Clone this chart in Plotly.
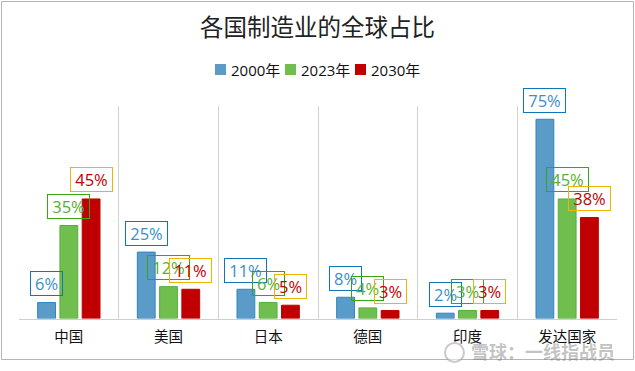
import plotly.graph_objects as go

categories = ["中国", "美国", "日本", "德国", "印度", "发达国家"]
values_2000 = [6, 25, 11, 8, 2, 75]
values_2023 = [35, 12, 6, 4, 3, 45]
values_2030 = [45, 11, 5, 3, 3, 38]
series_names = ["2000年", "2023年", "2030年"]

W, H = 635, 371
FONT = "Open Sans, Noto Sans CJK SC, sans-serif"
fig = go.Figure()
fills = ["#5B9BC8", "#70BF4E", "#C00000"]
edges = ["#2E86C1", "#55AE3A", "#C00000"]
text_cols = ["#3A8FC8", "#55B032", "#C00000"]
box_cols = ["#0F75BC", "#3BA50F", "#F0B400"]
all_vals = [values_2000, values_2023, values_2030]

bargap = 0.33
for name, vals, f, e in zip(series_names, all_vals, fills, edges):
    fig.add_trace(go.Bar(name=name, x=list(range(6)), y=vals, showlegend=False,
                         marker=dict(color=f, line=dict(color=e, width=1))))

slot = (1 - bargap) / 3
for j, vals in enumerate(all_vals):
    for i, v in enumerate(vals):
        fig.add_annotation(x=i + (j - 1) * slot, y=v, xref="x", yref="y", showarrow=False,
                           text=f"{v}%", yshift=19, yanchor="middle", xanchor="center",
                           font=dict(family=FONT, size=16.5, color=text_cols[j]),
                           bordercolor=box_cols[j], borderwidth=1, borderpad=0,
                           width=31 if v < 10 else 41, height=23, align="center")

# legend row
legend_swatch_px = [215, 285, 355]
for name, px, f in zip(series_names, legend_swatch_px, fills):
    fig.add_shape(type="rect", xref="paper", yref="paper", x0=px / W, x1=(px + 11) / W,
                  y0=1 - 75 / H, y1=1 - 64 / H, fillcolor=f, line=dict(width=0))
    fig.add_annotation(x=(px + 13.5) / W, y=1 - 69.5 / H, xref="paper", yref="paper", showarrow=False,
                       text=name, xanchor="left", yanchor="middle",
                       font=dict(family=FONT, size=15, color="#111111"))

fig.add_annotation(x=543 / W, y=1 - 352 / H, xref="paper", yref="paper", showarrow=False,
                   text="<b>雪球：一线指战员</b>", font=dict(family=FONT, size=18, color="rgba(120,120,120,0.45)"),
                   xanchor="center", yanchor="middle")
fig.add_shape(type="rect", xref="paper", yref="paper", x0=1.5 / W, x1=633.5 / W,
              y0=1 - 359.5 / H, y1=1 - 1.5 / H, line=dict(color="#B4B4B4", width=1),
              fillcolor="rgba(0,0,0,0)", layer="below")
fig.add_shape(type="circle", xref="paper", yref="paper", x0=445 / W, x1=464 / W,
              y0=1 - 362 / H, y1=1 - 343 / H, line=dict(color="rgba(150,150,150,0.5)", width=2),
              fillcolor="rgba(255,255,255,0.5)")

fig.update_layout(
    width=W, height=H, margin=dict(l=0, r=0, t=0, b=0), autosize=False,
    paper_bgcolor="white", plot_bgcolor="white",
    barmode="group", bargap=bargap, bargroupgap=0.2,
    title=dict(text="各国制造业的全球占比", x=317.5 / W, xanchor="center", y=1 - 28 / H, yanchor="middle",
               font=dict(family=FONT, size=23.5, color="#222222")),
    xaxis=dict(domain=[19 / W, 617 / W], range=[-0.5, 5.5], tickmode="array",
               tickvals=list(range(6)), ticktext=categories, showgrid=False,
               tickfont=dict(family=FONT, size=14.5, color="#111111"), ticks="",
               ticklabelstandoff=5, showline=True, linecolor="#CFCFCF", linewidth=1, zeroline=False,
               minor=dict(tickmode="array", tickvals=[-0.5, 0.5, 1.5, 2.5, 3.5, 4.5, 5.5],
                          showgrid=True, gridcolor="#D2D2D2", gridwidth=1, ticks="")),
    yaxis=dict(domain=[1 - 318.5 / H, 1 - 106 / H], range=[0, 80], visible=False, showgrid=False, zeroline=False),
)
fig.write_html("out.html", config=dict(displayModeBar=False),
               post_script="document.body.style.margin='0';document.documentElement.style.overflow='hidden';")
